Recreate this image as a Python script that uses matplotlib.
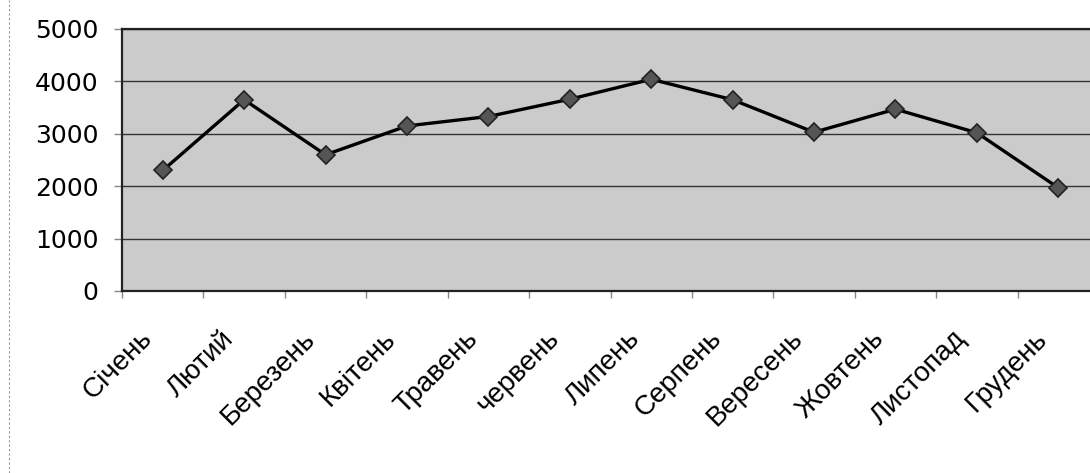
import matplotlib.pyplot as plt
import matplotlib.transforms as mtransforms
from matplotlib.lines import Line2D

plt.rcParams['font.family'] = ['Liberation Sans', 'DejaVu Sans']

months = ['Січень', 'Лютий', 'Березень', 'Квітень', 'Травень', 'червень',
          'Липень', 'Серпень', 'Вересень', 'Жовтень', 'Листопад', 'Грудень']
values = [2300, 3650, 2600, 3150, 3330, 3660, 4040, 3650, 3030, 3470, 3020, 1970]
y_ticks = [0, 1000, 2000, 3000, 4000, 5000]

fig = plt.figure(figsize=(10.90, 4.73), dpi=100)
# plot area runs slightly past the right edge of the scan
ax = fig.add_axes([122 / 1090, 182 / 473, 977 / 1090, 262 / 473])
ax.set_facecolor('#cbcbcb')

x = list(range(len(months)))
ax.plot(x, values, color='black', lw=2.4, zorder=3,
        marker='D', markersize=9, markerfacecolor='#555555',
        markeredgecolor='#222222', markeredgewidth=1.2)

ax.set_xlim(-0.5, len(months) - 0.5)
ax.set_ylim(0, 5000)
ax.set_yticks(y_ticks)
ax.set_yticklabels([str(v) for v in y_ticks], fontsize=18, family='DejaVu Sans')
ax.yaxis.grid(True, color='#333333', lw=1.0)
ax.set_axisbelow(True)

# category labels centred, tick marks on the boundaries
ax.set_xticks(x)
ax.set_xticklabels(months, fontsize=20, rotation=45, ha='right',
                   rotation_mode='anchor')
ax.set_xticks([i - 0.5 for i in range(len(months) + 1)], minor=True)
ax.tick_params(axis='x', which='major', length=0, pad=25)
ax.tick_params(axis='x', which='minor', length=5, color='#888888', width=1)
ax.tick_params(axis='y', length=6, color='#888888', width=1, pad=11)

# labels end a little left of the category centre
shift = mtransforms.ScaledTranslation(-24 / 100, 0, fig.dpi_scale_trans)
for lab in ax.get_xticklabels():
    lab.set_transform(lab.get_transform() + shift)

for side in ['left', 'top', 'bottom']:
    ax.spines[side].set_color('#222222')
    ax.spines[side].set_linewidth(1.6)
ax.spines['right'].set_visible(False)

# edge of the scanned page on the left
fig.add_artist(Line2D([9 / 1090, 9 / 1090], [0, 1], transform=fig.transFigure,
                      color='#999999', lw=0.8, ls=(0, (2, 2))))

fig.savefig('out.png', dpi=100)
